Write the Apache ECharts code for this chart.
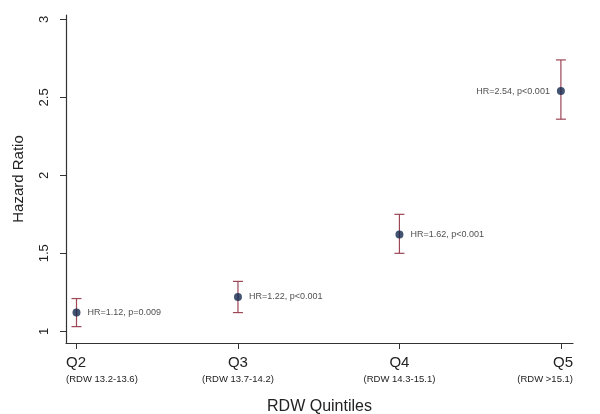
<!DOCTYPE html>
<html>
<head>
<meta charset="utf-8">
<script src="https://cdn.jsdelivr.net/npm/echarts@6/dist/echarts.min.js"></script>
<style>
html,body{margin:0;padding:0;background:#fff;}
#main{width:600px;height:414px;}
</style>
</head>
<body>
<div id="main"></div>
<script>
// quintiles
var quintiles = ['Q2', 'Q3', 'Q4', 'Q5'];
var rdwRanges = ['(RDW 13.2-13.6)', '(RDW 13.7-14.2)', '(RDW 14.3-15.1)', '(RDW >15.1)'];
var xPos = [2, 3, 4, 5];
// hazard ratios and 95% CI
var hr = [1.12, 1.22, 1.62, 2.54];
var ciLow = [1.03, 1.12, 1.50, 2.36];
var ciHigh = [1.21, 1.32, 1.75, 2.74];
var pText = ['p=0.009', 'p<0.001', 'p<0.001', 'p<0.001'];
var yTicks = [1, 1.5, 2, 2.5, 3];

var xMin = 1.935, xMax = 5.075;
// first and last labels sit on the axis ends
var labelPos = [xMin, 3, 4, xMax];

var pts = [];
var bars = [];
for(var i=0;i<xPos.length;i++){
	pts.push({
		value: [xPos[i], hr[i]],
		label: {
			show: true,
			position: i == xPos.length-1 ? 'left' : 'right',
			formatter: 'HR=' + hr[i].toFixed(2) + ', ' + pText[i]
		}
	});
	bars.push([xPos[i], ciLow[i], ciHigh[i]]);
}

function nearest(v){
	var k = 0;
	for(var j=1;j<labelPos.length;j++){
		if(Math.abs(labelPos[j]-v) < Math.abs(labelPos[k]-v)) k = j;
	}
	return k;
}

var myChart = echarts.init(document.getElementById('main'));
var option = {
	backgroundColor: '#fff',
	animation: false,
	textStyle: {fontFamily: 'Liberation Sans, Arial, sans-serif'},
	grid: {left: 66, right: 27, top: 15, bottom: 71, containLabel: false, outerBoundsMode: 'none'},
	xAxis: {
		type: 'value',
		min: xMin,
		max: xMax,
		name: 'RDW Quintiles',
		nameLocation: 'middle',
		nameGap: 56,
		nameTextStyle: {fontSize: 16, color: '#222'},
		axisLine: {show: true, lineStyle: {color: '#333', width: 1.2}},
		axisTick: {show: true, length: 6, customValues: xPos, lineStyle: {color: '#333'}},
		splitLine: {show: false},
		axisLabel: {
			customValues: labelPos,
			alignMinLabel: 'left',
			alignMaxLabel: 'right',
			margin: 11,
			formatter: function(v){
				var k = nearest(v);
				return '{q|' + quintiles[k] + '}\n{r|' + rdwRanges[k] + '}';
			},
			rich: {
				q: {fontSize: 15, color: '#222', lineHeight: 18},
				r: {fontSize: 9.5, color: '#222', lineHeight: 14}
			}
		}
	},
	yAxis: {
		type: 'value',
		min: 0.925,
		max: 3.028,
		name: 'Hazard Ratio',
		nameLocation: 'middle',
		nameGap: 40,
		nameTextStyle: {fontSize: 15, color: '#222'},
		axisLine: {show: true, lineStyle: {color: '#333', width: 1.2}},
		axisTick: {show: true, length: 6, customValues: yTicks, lineStyle: {color: '#333'}},
		splitLine: {show: false},
		axisLabel: {
			customValues: yTicks,
			rotate: 90,
			margin: 15,
			fontSize: 13,
			color: '#222'
		}
	},
	series: [
		{
			type: 'custom',
			data: bars,
			z: 2,
			renderItem: function(params, api){
				var x = api.value(0);
				var lo = api.coord([x, api.value(1)]);
				var hi = api.coord([x, api.value(2)]);
				var w = 5;
				var st = {stroke: '#9c4656', lineWidth: 1.2};
				return {
					type: 'group',
					children: [
						{type: 'line', shape: {x1: lo[0], y1: lo[1], x2: hi[0], y2: hi[1]}, style: st},
						{type: 'line', shape: {x1: lo[0]-w, y1: lo[1], x2: lo[0]+w, y2: lo[1]}, style: st},
						{type: 'line', shape: {x1: hi[0]-w, y1: hi[1], x2: hi[0]+w, y2: hi[1]}, style: st}
					]
				};
			}
		},
		{
			type: 'scatter',
			data: pts,
			z: 3,
			symbolSize: 8,
			itemStyle: {color: '#14284f'},
			label: {fontSize: 9, color: '#222', distance: 7}
		}
	]
};
myChart.setOption(option);
</script>
</body>
</html>
